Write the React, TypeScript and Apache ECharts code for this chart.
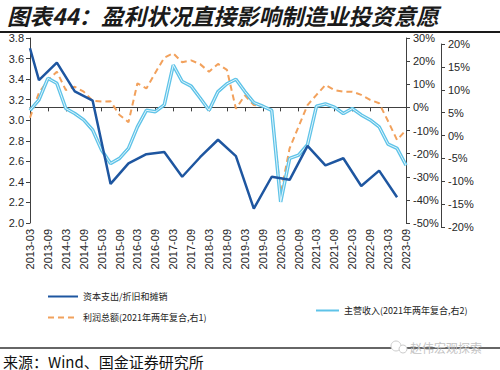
import React, { useEffect, useRef } from 'react';
import * as echarts from 'echarts';

const categories = [
  '2013-03', '2013-06', '2013-09', '2013-12',
  '2014-03', '2014-06', '2014-09', '2014-12',
  '2015-03', '2015-06', '2015-09', '2015-12',
  '2016-03', '2016-06', '2016-09', '2016-12',
  '2017-03', '2017-06', '2017-09', '2017-12',
  '2018-03', '2018-06', '2018-09', '2018-12',
  '2019-03', '2019-06', '2019-09', '2019-12',
  '2020-03', '2020-06', '2020-09', '2020-12',
  '2021-03', '2021-06', '2021-09', '2021-12',
  '2022-03', '2022-06', '2022-09', '2022-12',
  '2023-03', '2023-06', '2023-09',
];

// 资本支出/折旧和摊销 (left axis), semi-annual
const capexRatio: (number | null)[] = [
  3.70, 3.39, null, 3.56, null, 3.28, null, 3.19, null, 2.38, null,
  2.58, null, 2.67, null, 2.69, null, 2.45, null, 2.64, null, 2.81,
  null, 2.65, null, 2.14, null, 2.45, null, 2.42, null, 2.75, null,
  2.56, null, 2.63, null, 2.36, null, 2.51, null, 2.25, null,
];

// 利润总额 (right axis 1, %)
const profitGrowth = [
  -4.5, 6.3, 11.8, 15.4, 7.5, 8.9, 6.8, 2.8, 2.5, 2.6, -3.3,
  -6.4, 10.4, 8.2, 15.0, 21.5, 23.4, 19.5, 20.3, 18.7, 15.4, 18.8,
  16.2, -0.6, 5.2, 1.0, 0.6, -1.2, -37.5, -17.7, -8.3, 1.0, 5.4,
  9.7, 7.5, 6.8, 6.8, 5.4, 3.2, 1.8, -6.0, -14.1, -9.8,
];

// 主营收入 (right axis 2, %)
const revenueGrowth = [
  5.5, 7.8, 12.5, 11.4, 5.9, 4.8, 3.4, 1.2, -3.2, -6.1, -5.0,
  -2.8, 1.9, 5.5, 5.2, 6.7, 15.4, 11.8, 10.8, 8.2, 5.5, 9.6,
  11.3, 12.3, 9.6, 7.2, 6.4, 5.5, -14.5, -5.0, -4.3, -2.0, 6.4,
  6.9, 6.2, 4.8, 5.9, 4.5, 3.4, 1.9, -1.9, -2.8, -6.5,
];

const NAME_CAPEX = '资本支出/折旧和摊销';
const NAME_PROFIT = '利润总额(2021年两年复合,右1)';
const NAME_REVENUE = '主营收入(2021年两年复合,右2)';
const NAME_REVENUE_INNER = '主营收入内线';

const TITLE = '图表44：盈利状况直接影响制造业投资意愿';
const SOURCE = '来源：Wind、国金证券研究所';
const WATERMARK = '赵伟宏观探索';

export default function App() {
  const ref = useRef<HTMLDivElement>(null);

  useEffect(() => {
    if (!ref.current) return;
    const chart = echarts.init(ref.current, null, { renderer: 'svg' });
    const latin = '"Liberation Sans", Arial, sans-serif';
    const cjk = '"Noto Sans CJK SC", "Liberation Sans", sans-serif';
    const axisColor = '#404040';
    const labelColor = '#262626';

    const rightAxisCommon = {
      type: 'value' as const,
      position: 'right' as const,
      axisLine: { show: true, lineStyle: { color: axisColor, width: 1 } },
      axisTick: { show: true, length: 4, lineStyle: { color: axisColor } },
      axisLabel: { formatter: '{value}%', fontSize: 11, color: labelColor, fontFamily: latin, margin: 7 },
      splitLine: { show: false },
    };

    const legendCommon = {
      padding: 0,
      itemHeight: 10,
      itemStyle: { color: 'rgba(0,0,0,0)', borderColor: 'rgba(0,0,0,0)', borderWidth: 0 },
      textStyle: { fontSize: 9, color: '#222', fontFamily: cjk },
    };

    chart.setOption({
      animation: false,
      backgroundColor: '#ffffff',
      grid: [
        { left: 30, right: 94, top: 38, bottom: 147 },
        { left: 30, right: 94, top: 44, bottom: 143 },
      ],
      xAxis: [
        {
          type: 'category',
          gridIndex: 0,
          data: categories,
          boundaryGap: false,
          axisLine: { show: true, lineStyle: { color: axisColor, width: 1 } },
          axisTick: { show: true, interval: 1, length: 4, lineStyle: { color: axisColor } },
          axisLabel: { interval: 1, rotate: 90, fontSize: 11, color: labelColor, fontFamily: latin, margin: 6 },
          splitLine: { show: false },
        },
        {
          type: 'category',
          gridIndex: 1,
          data: categories,
          boundaryGap: false,
          show: false,
        },
      ],
      yAxis: [
        {
          type: 'value',
          gridIndex: 0,
          position: 'left',
          min: 2.0,
          max: 3.8,
          interval: 0.2,
          axisLine: { show: true, lineStyle: { color: axisColor, width: 1 } },
          axisTick: { show: true, length: 4, lineStyle: { color: axisColor } },
          axisLabel: {
            formatter: (v: number) => v.toFixed(1),
            fontSize: 11,
            color: labelColor,
            fontFamily: latin,
            margin: 6,
          },
          splitLine: { show: false },
        },
        { ...rightAxisCommon, gridIndex: 0, min: -50, max: 30, interval: 10 },
        { ...rightAxisCommon, gridIndex: 1, offset: 35, min: -20, max: 20, interval: 5 },
      ],
      legend: [
        { ...legendCommon, left: 47, top: 292, itemWidth: 30, data: [NAME_CAPEX] },
        { ...legendCommon, left: 47, top: 313, itemWidth: 30, data: [NAME_PROFIT] },
        { ...legendCommon, left: 315, top: 306, itemWidth: 23, data: [NAME_REVENUE] },
      ],
      series: [
        {
          name: NAME_PROFIT,
          type: 'line',
          xAxisIndex: 0,
          yAxisIndex: 1,
          data: profitGrowth,
          symbol: 'none',
          lineStyle: { color: '#F2A15C', width: 2, type: [6, 4] },
          itemStyle: { color: '#F2A15C' },
          z: 2,
        },
        {
          name: NAME_REVENUE,
          type: 'line',
          xAxisIndex: 1,
          yAxisIndex: 2,
          data: revenueGrowth,
          symbol: 'none',
          lineStyle: { color: '#5EC3E8', width: 3.5 },
          itemStyle: { color: '#5EC3E8' },
          z: 3,
        },
        {
          name: NAME_REVENUE_INNER,
          type: 'line',
          xAxisIndex: 1,
          yAxisIndex: 2,
          data: revenueGrowth,
          symbol: 'none',
          silent: true,
          lineStyle: { color: '#E2F5FC', width: 1 },
          itemStyle: { color: '#E2F5FC' },
          z: 4,
        },
        {
          name: NAME_CAPEX,
          type: 'line',
          xAxisIndex: 0,
          yAxisIndex: 0,
          data: capexRatio,
          connectNulls: true,
          symbol: 'none',
          lineStyle: { color: '#1E56A0', width: 2.5 },
          itemStyle: { color: '#1E56A0' },
          z: 5,
        },
      ],
      graphic: [
        {
          type: 'text',
          x: 7,
          y: 15,
          style: {
            text: TITLE,
            fontSize: 22.5,
            fontWeight: 'bold',
            fontStyle: 'italic',
            fontFamily: cjk,
            fill: '#1a1a1a',
            verticalAlign: 'middle',
          },
        },
        {
          type: 'line',
          shape: { x1: 0, y1: 32, x2: 500, y2: 32 },
          style: { stroke: '#1a1a1a', lineWidth: 2 },
        },
        {
          type: 'line',
          shape: { x1: 0, y1: 348, x2: 500, y2: 348 },
          style: { stroke: '#333', lineWidth: 1.5 },
        },
        {
          type: 'text',
          x: 3,
          y: 361,
          style: {
            text: SOURCE,
            fontSize: 15,
            fontFamily: cjk,
            fill: '#111',
            verticalAlign: 'middle',
          },
        },
        {
          type: 'circle',
          shape: { cx: 396, cy: 346, r: 5 },
          style: { stroke: '#cccccc', fill: '#ffffff', lineWidth: 1 },
        },
        {
          type: 'circle',
          shape: { cx: 403, cy: 349, r: 4 },
          style: { stroke: '#cccccc', fill: '#ffffff', lineWidth: 1 },
        },
        {
          type: 'text',
          x: 410,
          y: 347,
          style: {
            text: WATERMARK,
            fontSize: 12,
            fontFamily: cjk,
            fill: '#c4c4c4',
            verticalAlign: 'middle',
          },
        },
      ],
    });

    return () => {
      chart.dispose();
    };
  }, []);

  return (
    <div
      ref={ref}
      style={{ position: 'absolute', left: 0, top: 0, width: 500, height: 370, background: '#fff' }}
    />
  );
}
